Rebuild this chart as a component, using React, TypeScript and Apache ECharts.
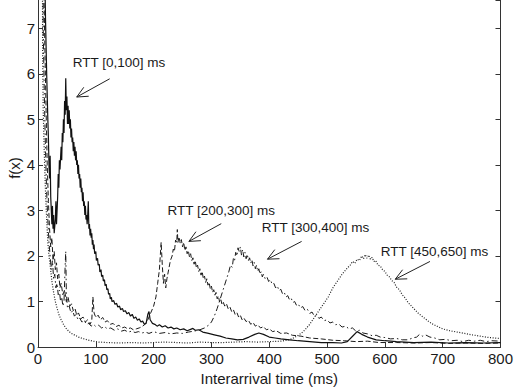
import React, { useEffect, useRef } from "react";
import * as echarts from "echarts";

// Interarrival-time densities f(x), one curve per RTT class: [ms, f(x)]
const rtt0to100: number[][] = [
  [9, 12], [11, 8.8], [13, 7.2], [15, 6.0], [17, 5.0], [18, 4.6], [19, 4.0], [20, 3.7],
  [21, 4.2], [22, 3.3], [23, 3.0], [24, 2.7], [25, 3.1], [26, 2.6], [27, 2.9], [28, 2.5], [30, 2.8], [31, 3.2],
  [32, 2.7], [34, 3.3], [35, 3.8], [36, 3.5], [37, 4.1], [38, 3.9], [40, 4.4], [41, 4.1], [42, 4.7], [43, 4.5],
  [44, 5.0], [45, 4.7], [46, 5.4], [47, 5.1], [48, 5.9], [49, 5.2], [50, 5.5], [51, 4.9], [52, 5.3], [53, 4.9],
  [54, 5.2], [55, 4.8], [56, 5.0], [57, 4.6], [58, 4.8], [59, 4.5], [60, 4.6], [61, 4.3], [62, 4.5], [63, 4.2],
  [64, 4.4], [65, 4.1], [66, 4.3], [67, 4.0], [68, 4.1], [69, 3.8], [70, 4.0], [71, 3.7], [72, 3.8], [73, 3.5],
  [74, 3.7], [75, 3.4], [76, 3.5], [77, 3.2], [78, 3.4], [79, 3.1], [80, 3.2], [81, 2.9], [82, 3.1], [83, 2.8],
  [84, 2.9], [85, 2.7], [86, 2.9], [87, 3.2], [88, 2.6], [89, 2.7], [90, 2.45], [91, 2.6], [92, 2.4], [93, 2.5],
  [94, 2.25], [95, 2.35], [96, 2.15], [97, 2.25], [98, 2.05], [100, 2.1], [101, 1.9], [103, 1.95], [104, 1.8],
  [106, 1.82], [107, 1.65], [109, 1.7], [110, 1.55], [112, 1.58], [113, 1.45], [115, 1.48], [116, 1.35], [118, 1.38],
  [119, 1.26], [121, 1.28], [122, 1.16], [124, 1.18], [125, 1.06], [127, 1.09], [128, 1.0], [131, 1.02], [133, 0.94],
  [136, 0.96], [138, 0.88], [141, 0.9], [143, 0.82], [146, 0.85], [148, 0.78], [151, 0.8], [154, 0.73], [157, 0.76],
  [160, 0.68], [163, 0.72], [166, 0.63], [169, 0.66], [172, 0.59], [175, 0.62], [178, 0.55], [181, 0.57], [184, 0.5],
  [187, 0.52], [190, 0.72], [192, 0.78], [194, 0.6], [198, 0.52], [202, 0.5], [206, 0.46], [210, 0.49], [215, 0.44],
  [220, 0.47], [225, 0.42], [230, 0.44], [235, 0.4], [240, 0.42], [246, 0.38], [252, 0.4], [258, 0.36], [264, 0.39],
  [268, 0.41], [272, 0.37], [278, 0.38], [285, 0.33], [295, 0.3], [305, 0.27], [315, 0.24], [325, 0.2], [335, 0.18],
  [345, 0.16], [355, 0.17], [365, 0.22], [375, 0.28], [382, 0.31], [390, 0.28], [400, 0.22], [410, 0.2], [420, 0.18],
  [435, 0.16], [450, 0.14], [470, 0.12], [490, 0.1], [510, 0.1], [525, 0.09], [535, 0.12], [545, 0.25], [552, 0.34],
  [560, 0.28], [570, 0.22], [585, 0.16], [600, 0.14], [620, 0.12], [650, 0.1], [680, 0.11], [710, 0.09], [740, 0.1],
  [770, 0.09], [800, 0.1],
];

const rtt200to300: number[][] = [
  [8, 12], [10, 8], [12, 6.5], [14, 5.2], [16, 4.0], [18, 3.2], [20, 2.6], [22, 2.2],
  [24, 2.4], [26, 1.9], [28, 2.1], [30, 1.7], [32, 1.85], [34, 1.5], [36, 1.6], [38, 1.3], [40, 1.4], [43, 1.15],
  [46, 1.25], [49, 1.0], [52, 1.1], [55, 0.9], [58, 0.95], [61, 0.8], [64, 0.85], [67, 0.7], [70, 0.75], [74, 0.62],
  [78, 0.66], [82, 0.55], [86, 0.6], [90, 0.5], [93, 0.58], [95, 1.1], [97, 0.75], [100, 0.65], [104, 0.7], [108, 0.6],
  [112, 0.65], [116, 0.55], [120, 0.58], [125, 0.5], [130, 0.52], [135, 0.45], [140, 0.48], [145, 0.42], [150, 0.44],
  [155, 0.4], [160, 0.42], [165, 0.38], [170, 0.4], [175, 0.42], [180, 0.45], [185, 0.5], [190, 0.6], [195, 0.75],
  [200, 0.9], [204, 1.1], [207, 1.4], [210, 1.7], [213, 2.3], [215, 1.8], [217, 1.4], [219, 1.6], [221, 1.3],
  [223, 1.5], [226, 1.7], [229, 1.9], [232, 2.0], [234, 2.15], [236, 2.1], [238, 2.35], [240, 2.3], [241, 2.58],
  [242, 2.3], [244, 2.42], [246, 2.28], [248, 2.36], [250, 2.2], [252, 2.3], [254, 2.12], [256, 2.2], [258, 2.05],
  [260, 2.12], [262, 1.98], [264, 2.05], [266, 1.9], [268, 1.96], [270, 1.82], [272, 1.9], [274, 1.74], [276, 1.8],
  [278, 1.66], [280, 1.72], [282, 1.58], [284, 1.66], [286, 1.5], [288, 1.56], [290, 1.42], [292, 1.5], [294, 1.36],
  [296, 1.42], [298, 1.28], [300, 1.34], [302, 1.2], [304, 1.26], [306, 1.14], [308, 1.2], [310, 1.06], [312, 1.12],
  [314, 1.0], [316, 1.06], [318, 0.95], [320, 1.0], [323, 0.9], [326, 0.95], [329, 0.84], [332, 0.88], [335, 0.78],
  [338, 0.82], [341, 0.72], [344, 0.76], [347, 0.66], [350, 0.7], [353, 0.6], [356, 0.64], [360, 0.56], [364, 0.59],
  [368, 0.5], [372, 0.54], [376, 0.46], [380, 0.49], [385, 0.42], [390, 0.45], [395, 0.38], [400, 0.4], [406, 0.34],
  [412, 0.36], [420, 0.3], [430, 0.31], [440, 0.26], [455, 0.24], [470, 0.2], [490, 0.18], [510, 0.15], [530, 0.14],
  [550, 0.12], [570, 0.13], [590, 0.1], [620, 0.1], [650, 0.09], [680, 0.1], [710, 0.08], [740, 0.09], [770, 0.08],
  [800, 0.09],
];

const rtt300to400: number[][] = [
  [8, 12], [9, 7], [11, 5.5], [13, 4.3], [15, 3.4], [17, 2.8], [19, 2.3], [21, 2.0],
  [23, 1.7], [25, 1.9], [27, 1.5], [29, 1.6], [31, 1.3], [33, 1.4], [35, 1.15], [37, 1.25], [39, 1.0], [41, 1.1],
  [43, 0.9], [45, 1.0], [47, 1.8], [48, 2.1], [49, 1.2], [51, 0.85], [54, 0.9], [57, 0.75], [60, 0.8], [63, 0.68],
  [66, 0.72], [69, 0.6], [72, 0.64], [76, 0.55], [80, 0.58], [84, 0.5], [88, 0.52], [92, 0.46], [96, 0.5], [100, 0.45],
  [105, 0.48], [110, 0.42], [115, 0.45], [120, 0.4], [126, 0.42], [132, 0.37], [138, 0.4], [144, 0.35], [150, 0.37],
  [156, 0.33], [162, 0.35], [168, 0.32], [174, 0.34], [180, 0.31], [186, 0.33], [192, 0.3], [200, 0.34], [210, 0.3],
  [220, 0.32], [230, 0.29], [240, 0.31], [250, 0.3], [260, 0.33], [270, 0.35], [280, 0.38], [288, 0.42], [295, 0.48],
  [300, 0.55], [305, 0.68], [310, 0.85], [315, 1.05], [320, 1.25], [325, 1.45], [330, 1.65], [333, 1.8], [336, 1.75],
  [338, 1.95], [340, 1.9], [342, 2.08], [344, 2.0], [346, 2.18], [348, 2.1], [350, 2.2], [352, 2.02], [354, 2.14],
  [356, 1.98], [358, 2.08], [360, 1.94], [362, 2.04], [364, 1.9], [366, 1.96], [368, 1.84], [370, 1.92], [372, 1.78],
  [374, 1.86], [376, 1.72], [378, 1.8], [380, 1.66], [382, 1.72], [384, 1.6], [386, 1.66], [388, 1.54], [390, 1.6],
  [393, 1.5], [396, 1.54], [399, 1.44], [402, 1.48], [405, 1.38], [408, 1.4], [411, 1.3], [414, 1.34], [417, 1.24],
  [420, 1.27], [423, 1.17], [426, 1.2], [429, 1.1], [432, 1.13], [435, 1.04], [438, 1.07], [441, 0.98], [444, 1.0],
  [447, 0.92], [450, 0.95], [454, 0.86], [458, 0.89], [462, 0.8], [466, 0.83], [470, 0.74], [474, 0.77], [478, 0.68],
  [482, 0.71], [486, 0.63], [490, 0.66], [495, 0.58], [500, 0.6], [505, 0.53], [510, 0.55], [515, 0.49], [520, 0.51],
  [526, 0.44], [532, 0.46], [538, 0.4], [544, 0.42], [550, 0.35], [556, 0.37], [562, 0.31], [570, 0.29], [578, 0.25],
  [585, 0.26], [592, 0.22], [600, 0.21], [610, 0.18], [620, 0.19], [630, 0.16], [640, 0.16], [648, 0.2], [655, 0.22],
  [660, 0.28], [665, 0.24], [670, 0.27], [678, 0.22], [686, 0.2], [695, 0.16], [705, 0.17], [715, 0.14], [725, 0.15],
  [735, 0.12], [745, 0.15], [755, 0.13], [765, 0.15], [775, 0.12], [785, 0.14], [800, 0.13],
];

const rtt450to650: number[][] = [
  [7, 12], [8, 6.5], [9, 5.2], [11, 4.2], [13, 3.4], [15, 2.8], [17, 2.3], [19, 2.0],
  [21, 1.8], [24, 1.45], [27, 1.2], [30, 1.0], [33, 0.85], [36, 0.72], [40, 0.6], [44, 0.5], [48, 0.42], [53, 0.35],
  [58, 0.3], [64, 0.26], [70, 0.22], [77, 0.19], [85, 0.16], [95, 0.13], [105, 0.11], [120, 0.1], [140, 0.09],
  [160, 0.1], [180, 0.09], [200, 0.1], [220, 0.11], [240, 0.1], [260, 0.09], [280, 0.11], [300, 0.1], [320, 0.1],
  [340, 0.11], [360, 0.12], [380, 0.11], [400, 0.12], [420, 0.13], [435, 0.16], [445, 0.22], [455, 0.3], [462, 0.38],
  [470, 0.5], [478, 0.65], [486, 0.8], [494, 0.95], [502, 1.1], [510, 1.3], [518, 1.45], [526, 1.6], [534, 1.72],
  [540, 1.8], [544, 1.88], [548, 1.84], [552, 1.93], [556, 1.9], [560, 2.0], [563, 1.94], [566, 2.03], [569, 1.95],
  [572, 2.02], [575, 1.93], [578, 1.97], [581, 1.88], [584, 1.9], [588, 1.8], [592, 1.78], [596, 1.7], [600, 1.66],
  [604, 1.58], [608, 1.54], [612, 1.46], [616, 1.42], [620, 1.32], [625, 1.26], [630, 1.15], [635, 1.08], [640, 0.98],
  [646, 0.9], [652, 0.82], [658, 0.74], [664, 0.68], [670, 0.62], [676, 0.56], [682, 0.51], [690, 0.46], [700, 0.4],
  [712, 0.36], [725, 0.33], [738, 0.3], [750, 0.27], [765, 0.24], [780, 0.21], [800, 0.19],
];

// Annotation labels (left edge / vertical centre) and arrows, in data units
const noteLabels = ["RTT [0,100] ms", "RTT [200,300] ms", "RTT [300,400] ms", "RTT [450,650] ms"];
const noteTextAt: number[][] = [[60, 6.24], [224, 3.0], [387, 2.63], [593, 2.1]];
const noteArrowFrom: number[][] = [[124, 5.89], [317, 2.71], [456, 2.32], [678, 1.88]];
const noteArrowTo: number[][] = [[67, 5.49], [261, 2.32], [397, 1.93], [618, 1.49]];

const FONT = "'Liberation Sans', Arial, Helvetica, sans-serif";
const INK = "#1a1a1a";
const Y_MAX = 7.62;

export default function App() {
  const ref = useRef<HTMLDivElement>(null);

  useEffect(() => {
    if (!ref.current) return;
    const chart = echarts.init(ref.current, null, { renderer: "svg" });

    const axisLine = { show: true, lineStyle: { color: "#333", width: 1 } };
    const line = (data: number[][], type: any, width: number, color: string) => ({
      type: "line",
      data,
      xAxisIndex: 0,
      yAxisIndex: 0,
      symbol: "none",
      showSymbol: false,
      clip: true,
      lineStyle: { color, width, type },
      emphasis: { disabled: true },
    });

    chart.setOption({
      animation: false,
      backgroundColor: "#fff",
      textStyle: { fontFamily: FONT },
      grid: { left: 38, right: 13, top: 0, bottom: 42, containLabel: false },
      xAxis: {
        type: "value",
        min: 0,
        max: 800,
        interval: 100,
        axisLine,
        axisTick: { show: true, inside: true, length: 5, lineStyle: { color: "#333" } },
        axisLabel: { color: INK, fontSize: 15, fontFamily: FONT, margin: 4 },
        splitLine: { show: false },
        name: "Interarrival time (ms)",
        nameLocation: "middle",
        nameGap: 17,
        nameTextStyle: { color: INK, fontSize: 15, fontFamily: FONT },
      },
      yAxis: [
        {
          type: "value",
          min: 0,
          max: Y_MAX,
          interval: 1,
          axisLine,
          axisTick: { show: true, inside: true, length: 5, lineStyle: { color: "#333" } },
          axisLabel: {
            color: INK,
            fontSize: 15,
            fontFamily: FONT,
            margin: 3,
            showMaxLabel: false,
            formatter: (v: number) => (Number.isInteger(v) ? String(v) : ""),
          },
          splitLine: { show: false },
        },
        {
          type: "value",
          position: "right",
          min: 0,
          max: Y_MAX,
          interval: 1,
          axisLine,
          axisTick: { show: true, inside: true, length: 5, lineStyle: { color: "#333" } },
          axisLabel: { show: false },
          splitLine: { show: false },
        },
      ],
      series: [
        line(rtt450to650, [1, 1.6], 1.2, "#222"),
        line(rtt300to400, [6, 3, 1.5, 3], 1, "#1a1a1a"),
        line(rtt200to300, [5, 2.5], 1, "#1a1a1a"),
        line(rtt0to100, "solid", 1.2, "#111"),
      ],
    });

    const toPx = (p: number[]) =>
      chart.convertToPixel({ xAxisIndex: 0, yAxisIndex: 0 }, p) as number[];

    const elements: any[] = [
      {
        type: "text",
        x: 14,
        y: 168,
        rotation: Math.PI / 2,
        style: {
          text: "f(x)",
          fill: INK,
          font: `15px ${FONT}`,
          align: "center",
          verticalAlign: "middle",
          textAlign: "center",
          textVerticalAlign: "middle",
        },
      },
    ];

    noteLabels.forEach((label, i) => {
      const t = toPx(noteTextAt[i]);
      const a = toPx(noteArrowFrom[i]);
      const b = toPx(noteArrowTo[i]);
      elements.push({
        type: "text",
        x: t[0],
        y: t[1],
        style: {
          text: label,
          fill: INK,
          font: `13.5px ${FONT}`,
          align: "left",
          verticalAlign: "middle",
          textAlign: "left",
          textVerticalAlign: "middle",
        },
      });
      const stroke = { stroke: "#222", lineWidth: 1 };
      elements.push({ type: "line", shape: { x1: a[0], y1: a[1], x2: b[0], y2: b[1] }, style: stroke });
      const ang = Math.atan2(a[1] - b[1], a[0] - b[0]);
      const h = 12;
      const spread = 0.44;
      [ang - spread, ang + spread].forEach((g) => {
        elements.push({
          type: "line",
          shape: { x1: b[0], y1: b[1], x2: b[0] + h * Math.cos(g), y2: b[1] + h * Math.sin(g) },
          style: stroke,
        });
      });
    });

    chart.setOption({ graphic: { elements } });

    return () => chart.dispose();
  }, []);

  return (
    <div
      ref={ref}
      style={{ position: "fixed", left: 0, top: 0, width: 516, height: 391, background: "#fff" }}
    />
  );
}
